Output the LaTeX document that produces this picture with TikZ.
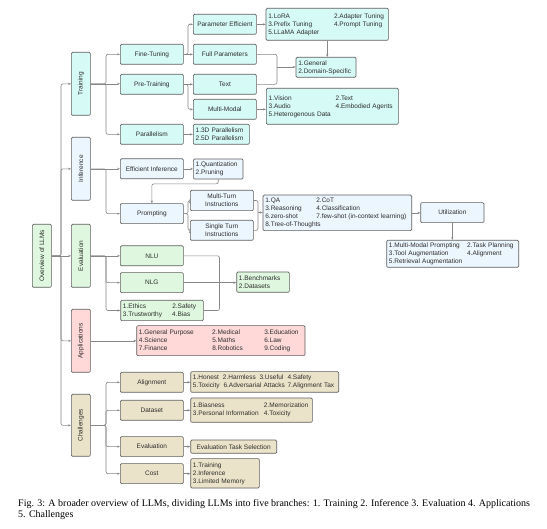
\documentclass[tikz,border=0pt]{standalone}
\usepackage{fontspec}
\setmainfont{Liberation Serif}
\newfontfamily\boxfont{Liberation Sans}
\usetikzlibrary{arrows.meta}
\definecolor{cyanc}{RGB}{214,250,246}
\definecolor{bluec}{RGB}{236,246,254}
\definecolor{greenc}{RGB}{222,247,222}
\definecolor{pinkc}{RGB}{255,216,216}
\definecolor{tanc}{RGB}{235,227,201}
\definecolor{bordc}{RGB}{95,95,95}
\definecolor{linec}{RGB}{135,135,135}
\definecolor{txtc}{RGB}{45,45,45}
\newcommand\colx[2]{\makebox[#1pt][l]{#2}}
\newcommand\mybox[7]{\pgfmathsetmacro\bw{#5-#3}\pgfmathsetmacro\bh{#6-#4}%
  \node[#2, minimum width=\bw pt, minimum height=\bh pt] (#1) at (#3,#4) {#7};}
\newcommand\mylist[7]{\pgfmathsetmacro\bw{#5-#3}\pgfmathsetmacro\bh{#6-#4}\pgfmathsetmacro\tw{#5-#3-4.6}%
  \node[lst,#2, minimum width=\bw pt, minimum height=\bh pt, text width=\tw pt] (#1) at (#3,#4) {#7};}
\tikzset{
  base/.style={draw=bordc, line width=0.7pt, rounded corners=1.2pt, text=txtc,
    font=\boxfont\fontsize{6.5}{8}\selectfont, inner sep=0pt, anchor=north west},
  lab/.style={base, align=center},
  lst/.style={base, align=left, inner xsep=2.3pt},
  cy/.style={fill=cyanc}, bl/.style={fill=bluec}, gr/.style={fill=greenc},
  pk/.style={fill=pinkc}, tn/.style={fill=tanc},
  line/.style={draw=linec, line width=0.6pt, rounded corners=2pt},
  conn/.style={line, -{Stealth[length=2.8pt,width=2.2pt]}},
  captxt/.style={anchor=base west, inner sep=0pt, text=black, font=\fontsize{10}{11}\selectfont}
}
\begin{document}
\begin{tikzpicture}[x=1pt,y=-1pt]
\useasboundingbox[fill=white] (0,0) rectangle (547,529);
% level 1
\mybox{ov}{lab,gr}{32}{224}{51}{287}{\rotatebox{90}{Overview of LLMs}}
\mybox{tr}{lab,cy}{71}{52}{90}{115}{\rotatebox{90}{Training}}
\mybox{inf}{lab,bl}{71}{137}{90}{200}{\rotatebox{90}{Inference}}
\mybox{ev}{lab,gr}{71}{224}{90}{287}{\rotatebox{90}{Evaluation}}
\mybox{ap}{lab,pk}{71}{309}{90}{372}{\rotatebox{90}{Applications}}
\mybox{ch}{lab,tn}{71}{394}{90}{456}{\rotatebox{90}{Challenges}}
% level 2
\mybox{ft}{lab,cy}{120}{44}{183}{64}{Fine-Tuning}
\mybox{pt}{lab,cy}{120}{74}{183}{94}{Pre-Training}
\mybox{par}{lab,cy}{120}{124}{183}{144}{Parallelism}
\mybox{ei}{lab,bl}{120}{158.5}{183}{178.5}{Efficient Inference}
\mybox{pr}{lab,bl}{120}{203.3}{183}{223.3}{Prompting}
\mybox{nlu}{lab,gr}{120}{245.5}{183}{265.5}{NLU}
\mybox{nlg}{lab,gr}{120}{272.3}{183}{292.3}{NLG}
\mylist{eth}{gr}{120.3}{300}{203}{320.3}{\colx{49.3}{1.Ethics}2.Safety\\\colx{49.3}{3.Trustworthy}4.Bias}
\mybox{al}{lab,tn}{120}{372}{183}{392}{Alignment}
\mybox{ds}{lab,tn}{120}{400}{183}{420}{Dataset}
\mybox{cev}{lab,tn}{120}{436.3}{183}{456.3}{Evaluation}
\mybox{cost}{lab,tn}{120}{463.3}{183}{483.3}{Cost}
% level 3
\mybox{pe}{lab,cy}{193}{14}{256}{34}{Parameter Efficient}
\mybox{fp}{lab,cy}{193}{44}{256}{64}{Full Parameters}
\mybox{tx}{lab,cy}{193}{74}{256}{94}{Text}
\mybox{mm}{lab,cy}{193}{99}{256}{119}{Multi-Modal}
\mylist{pl}{cy}{193}{124}{249}{144}{1.3D Parallelism\\2.5D Parallelism}
\mylist{lora}{cy}{265.7}{8}{388}{40}{\colx{65.7}{1.LoRA}2.Adapter Tuning\\\colx{65.7}{3.Prefix Tuning}4.Prompt Tuning\\5.LLaMA Adapter}
\mylist{gen}{cy}{295.7}{57}{355.7}{77}{1.General\\2.Domain-Specific}
\mylist{vis}{cy}{266}{88}{398}{124}{\colx{67}{1.Vision}2.Text\\\colx{67}{3.Audio}4.Embodied Agents\\5.Heterogenous Data}
\mylist{quant}{bl}{193}{158.7}{242.7}{178.7}{1.Quantization\\2.Pruning}
\mybox{mt}{lab,bl}{190}{190}{253}{210.3}{Multi-Turn\\Instructions}
\mybox{st}{lab,bl}{190}{220}{253}{240}{Single Turn\\Instructions}
\mylist{qa}{bl}{262.7}{194.7}{411.3}{230.3}{\colx{51}{1.QA}2.CoT\\\colx{51}{3.Reasoning}4.Classification\\\colx{51}{6.zero-shot}7.few-shot (in-context learning)\\8.Tree-of-Thoughts}
\mybox{ut}{lab,bl}{420.3}{202.3}{483.7}{222.3}{Utilization}
\mylist{mmp}{bl}{386.3}{240}{518.3}{267}{\colx{78.3}{1.Multi-Modal Prompting}2.Task Planning\\\colx{78.3}{3.Tool Augmentation}4.Alignment\\5.Retrieval Augmentation}
\mylist{bm}{gr}{236.3}{271.7}{289}{292}{1.Benchmarks\\2.Datasets}
\mylist{apl}{pk}{136.3}{325.3}{304.7}{355.3}{\colx{73.3}{1.General Purpose}\colx{52}{2.Medical}3.Education\\\colx{73.3}{4.Science}\colx{52}{5.Maths}6.Law\\\colx{73.3}{7.Finance}\colx{52}{8.Robotics}9.Coding}
\mylist{all}{tn}{190.3}{371.3}{338.3}{392}{\colx{30}{1.Honest}\colx{36.6}{2.Harmless}\colx{28}{3.Useful}4.Safety\\\colx{30.6}{5.Toxicity}\colx{64}{6.Adversarial Attacks}7.Alignment Tax}
\mylist{dsl}{tn}{190.3}{397.7}{312}{422}{\colx{71}{1.Biasness}2.Memorization\\\colx{71}{3.Personal Information}4.Toxicity}
\mybox{ets}{lab,tn}{190.3}{439.7}{276.3}{453}{Evaluation Task Selection}
\mylist{cl}{tn}{190.3}{458.3}{259}{487.7}{1.Training\\2.Inference\\3.Limited Memory}
% helper coordinates
\coordinate (s1) at (61,0);
\coordinate (s2) at (106,0);
\coordinate (s3) at (188,0);
\coordinate (j1) at (277,67);
\coordinate (j2) at (258,212.5);
\coordinate (j3) at (219.5,282.3);
% spine
\draw[conn] (ov.east) -- (ov.east -| s1) |- (tr.west);
\draw[conn] (ov.east) -- (ov.east -| s1) |- (inf.west);
\draw[conn] (ov.east) -- (ev.west);
\draw[conn] (ov.east) -- (ov.east -| s1) |- (ap.west);
\draw[conn] (ov.east) -- (ov.east -| s1) |- (ch.west);
% training
\draw[conn] (tr.east) -- (tr.east -| s2) |- (ft.west);
\draw[conn] (tr.east) -- (tr.east -| pt.west);
\draw[conn] (tr.east) -- (tr.east -| s2) |- (par.west);
\draw[conn] (ft.east) -- (ft.east -| s3) |- (pe.west);
\draw[conn] (ft.east) -- (fp.west);
\draw[conn] (pt.east) -- (tx.west);
\draw[conn] (pt.east) -- (pt.east -| s3) |- (mm.west);
\draw[conn] (par.east) -- (par.east -| pl.west);
\draw[conn] (pe.east) -- (pe.east -| lora.west);
\draw[conn] (mm.east) -- (mm.east -| vis.west);
\draw[conn] (lora.south) -- (lora.south |- gen.north);
\draw[line] (fp.east) -| (j1) |- (tx.east);
\draw[conn] (j1) -- (j1 -| gen.west);
% inference
\draw[conn] (inf.east) -- (inf.east -| ei.west);
\draw[conn] (inf.east) -- (inf.east -| s2) |- (pr.west);
\draw[conn] (ei.east) -- (ei.east -| quant.west);
\draw[conn] (quant.south) -- ++(0,4.5) -| (pr.north);
\draw[conn] (pr.east) -- (pr.east -| s3) |- (mt.west);
\draw[conn] (pr.east) -- (pr.east -| s3) |- (st.west);
\draw[line] (mt.east) -| (j2) |- (st.east);
\draw[conn] (j2) -- (j2 -| qa.west);
\draw[conn] (qa.east) -- (qa.east -| ut.west);
\draw[conn] (ut.south) -- (ut.south |- mmp.north);
% evaluation
\draw[conn] (ev.east) -- (ev.east -| nlu.west);
\draw[conn] (ev.east) -- (ev.east -| s2) |- (nlg.west);
\draw[conn] (ev.east) -- (ev.east -| s2) |- (eth.west);
\draw[line] (nlu.east) -| (j3) |- (eth.east);
\draw[conn] (nlg.east) -- (nlg.east -| bm.west);
% applications
\draw[conn] (ap.east) -- (ap.east -| apl.west);
% challenges
\draw[conn] (ch.east) -- (ch.east -| s2) |- (al.west);
\draw[conn] (ch.east) -- (ch.east -| s2) |- (ds.west);
\draw[conn] (ch.east) -- (ch.east -| s2) |- (cev.west);
\draw[conn] (ch.east) -- (ch.east -| s2) |- (cost.west);
\draw[conn] (al.east) -- (al.east -| all.west);
\draw[conn] (ds.east) -- (ds.east -| dsl.west);
\draw[conn] (cev.east) -- (cev.east -| ets.west);
\draw[conn] (cost.east) -- (cost.east -| cl.west);
% caption
\node[captxt] (cap1) at (18,506.5) {Fig. 3: A broader overview of LLMs, dividing LLMs into five branches: 1. Training 2. Inference 3. Evaluation 4. Applications};
\node[captxt] (cap2) at (18,517.5) {5. Challenges};
\end{tikzpicture}
\end{document}
